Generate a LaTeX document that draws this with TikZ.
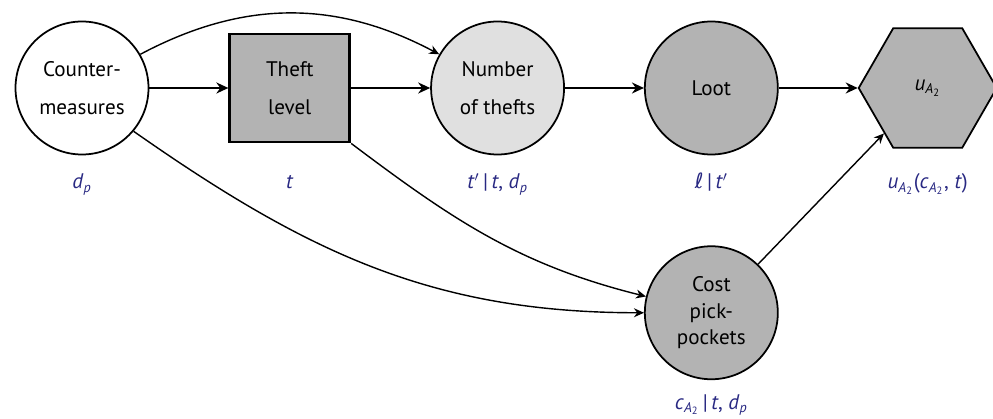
\documentclass[tikz,border=0pt]{standalone}
\usepackage{fontspec}
\setmainfont{PT Sans}
\newfontfamily\symfont{DejaVu Sans}
\usetikzlibrary{arrows.meta,positioning,shapes.geometric}
\definecolor{nodegray}{RGB}{179,179,179}
\definecolor{numgray}{RGB}{224,224,224}
\definecolor{lblblue}{RGB}{40,40,130}
\newcommand{\mv}[1]{\textit{#1}}
\tikzset{
  chance/.style={draw,circle,minimum size=26.6mm,inner sep=0pt,line width=1pt,align=center},
  decision/.style={draw,rectangle,minimum width=24mm,minimum height=21.6mm,line width=1.6pt,fill=nodegray,align=center},
  utility/.style={draw,regular polygon,regular polygon sides=6,minimum size=27.6mm,inner sep=0pt,line width=1pt,fill=nodegray},
  lbl/.style={anchor=base,text=lblblue},
  connect/.style={-{Stealth[length=2.4mm,width=2.2mm]},line width=1.6pt},
  infl/.style={-{Stealth[length=2mm,width=1.8mm]},line width=0.8pt}
}

\begin{document}
\begin{tikzpicture}[node distance=18.6mm and 15.8mm,font=\fontsize{12}{21.5}\selectfont]
\useasboundingbox (-1.64,1.76) rectangle (18.22,-6.62);

\node[chance] (cm) {Counter-\\measures};
\node[decision,right=of cm] (theft) {Theft\\level};
\node[chance,fill=numgray,right=of theft] (num) {Number\\of thefts};
\node[chance,fill=nodegray,right=of num] (loot) {Loot};
\node[utility,right=of loot] (util) {\mv{u}\textsubscript{\mv{A}\textsubscript{2}}};
\node[chance,fill=nodegray,below=18mm of loot,font=\fontsize{12}{15}\selectfont] (cost) {Cost\\pick-\\pockets};

% labels under the nodes
\node[lbl] (cmlbl) at ([yshift=-6.7mm]cm.south) {\mv{d}\textsubscript{\mv{p}}};
\node[lbl] (theftlbl) at (theft |- cmlbl.base) {\mv{t}};
\node[lbl] (numlbl) at (num |- cmlbl.base) {\mv{t}$'$\,|\,\mv{t}, \mv{d}\textsubscript{\mv{p}}};
\node[lbl] (lootlbl) at (loot |- cmlbl.base) {{\symfont\itshape ℓ}\,|\,\mv{t}$'$};
\node[lbl] (utillbl) at (util |- cmlbl.base) {\mv{u}\textsubscript{\mv{A}\textsubscript{2}}(\mv{c}\textsubscript{\mv{A}\textsubscript{2}}, \mv{t})};
\node[lbl] (costlbl) at ([yshift=-5.8mm]cost.south) {\mv{c}\textsubscript{\mv{A}\textsubscript{2}}\,|\,\mv{t}, \mv{d}\textsubscript{\mv{p}}};

\draw[connect] (cm) -- (theft);
\draw[connect] (theft) -- (num);
\draw[connect] (num) -- (loot);
\draw[connect] (loot) -- (util);

\draw[infl] (cm.30) to[bend left=28] (num.150);
\draw[infl] (cm.-40) to[out=-35,in=180] (cost.west);
\draw[infl] (theft.south east) to[out=-37,in=166] (cost.166);
\draw[infl] (cost) -- (util);

\end{tikzpicture}
\end{document}
